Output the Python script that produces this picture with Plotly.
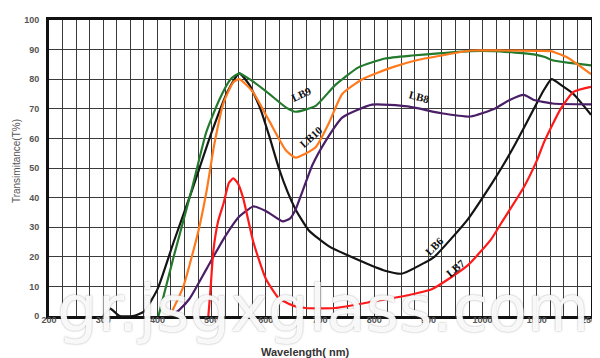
import numpy as np
import plotly.graph_objects as go

# Axis ticks (non-linear wavelength scale: equal spacing between labels)
tick_nm = [200, 300, 400, 500, 600, 700, 800, 900, 1000, 1500, 2500]
tick_text = ["200", "300", "400", "500", "600", "700", "800", "900", "1000", "1500", "2500"]
y_ticks = [0, 10, 20, 30, 40, 50, 60, 70, 80, 90, 100]

# Series (wavelength nm, transmittance %)
lb6_nm = [300, 313, 330, 355, 375, 400, 430, 463, 500, 530, 551, 570, 590, 606, 624, 640, 655, 679, 716,
          770, 820, 851, 893, 911, 972, 1080, 1174, 1300, 1473, 1620, 1774, 1950, 2176, 2500]
lb6_t = [0, 2.5, 0, 0, 1.5, 9, 25, 42, 62, 76, 82, 78, 70, 61, 50, 42, 36, 29, 23.6,
         19, 15.3, 14.3, 18, 20, 32.5, 44.5, 50, 58, 70, 76, 80, 78, 75, 68]

lb9_nm = [402, 430, 463, 490, 514, 535, 551, 570, 600, 637, 655, 692, 728, 771, 820, 870, 924, 978,
          1100, 1300, 1473, 1650, 1790, 2100, 2500]
lb9_t = [0, 20, 42.5, 62, 73, 80, 82, 80, 76, 70.5, 69, 71, 78, 84, 87, 88, 88.8, 89.5,
         89.5, 89, 88.4, 87.5, 86.4, 85.5, 84.7]

lb10_nm = [423, 448, 476, 491, 505, 522, 540, 551, 575, 606, 637, 655, 692, 716, 741, 778, 833, 880,
           924, 978, 1200, 1500, 1755, 2050, 2500]
lb10_t = [0, 10, 29, 42.5, 58, 72, 79, 80, 76, 66, 56, 53.5, 57, 65, 75, 80, 84, 86.5,
          88, 89.7, 89.7, 89.6, 89.5, 87.5, 81.7]

lb8_nm = [425, 440, 460, 491, 522, 551, 577, 600, 631, 645, 655, 686, 710, 741, 796, 862, 924, 978,
          1110, 1250, 1380, 1473, 1790, 2500]
lb8_t = [0, 2, 6, 16, 26, 33.6, 37, 35.5, 32, 33, 36, 51, 59, 67, 71.4, 70.8, 68.5, 67.4,
         70, 73, 74.7, 73, 71.8, 71.5]

lb7_nm = [494, 498, 503, 512, 522, 532, 540, 548, 558, 577, 600, 624, 650, 673, 728, 801, 862, 906, 972,
          1080, 1174, 1380, 1500, 1640, 1940, 2176, 2500]
lb7_t = [0, 9, 21.6, 32, 38, 45, 46.5, 45, 40, 25, 12.6, 6, 3.5, 2.7, 2.7, 5, 7, 9, 17,
         26, 31.5, 43.5, 52.5, 59, 70, 75.7, 77.4]

tick_pos = list(range(len(tick_nm)))


def pos(nm):
    return np.interp(nm, tick_nm, tick_pos)


series = [
    ("LB6", lb6_nm, lb6_t, "#141414"),
    ("LB9", lb9_nm, lb9_t, "#237a2c"),
    ("LB10", lb10_nm, lb10_t, "#ff7a1c"),
    ("LB8", lb8_nm, lb8_t, "#4a1f66"),
    ("LB7", lb7_nm, lb7_t, "#ff1a1a"),
]

fig = go.Figure()
for name, nm, t, col in series:
    fig.add_trace(go.Scatter(x=pos(nm), y=t, mode="lines", name=name,
                             line=dict(color=col, width=2.2, shape="spline", smoothing=0.5),
                             hoverinfo="skip"))

# Curve labels
labels = [
    ("LB9", 666, 75, -25),
    ("LB10", 683, 60.5, -42),
    ("LB8", 884, 74, 15),
    ("LB6", 911, 23.6, -45),
    ("LB7", 950, 16.3, -40),
]
for txt, nm, yv, ang in labels:
    fig.add_annotation(x=float(pos(nm)), y=yv, text=txt, showarrow=False, textangle=ang,
                       font=dict(family="Liberation Serif", size=11, color="#111", weight="bold"))

# Watermark
fig.add_annotation(x=0.506, y=0.005, xref="paper", yref="paper", text="gr.jsgxglass.com",
                   showarrow=False, yanchor="middle", yshift=6,
                   font=dict(family="DejaVu Sans", size=64, color="rgba(255,255,255,0.92)",
                             shadow="0px 0px 2px rgba(110,110,110,0.7)"))

# Axis titles
fig.add_annotation(x=0.4735, y=-0.12, xref="paper", yref="paper", text="Wavelength( nm)",
                   showarrow=False, yanchor="middle",
                   font=dict(family="Liberation Sans", size=11, color="#333", weight="bold"))
fig.add_annotation(x=-0.06, y=0.525, xref="paper", yref="paper", text="Transimitance(T%)",
                   showarrow=False, textangle=-90, xanchor="center", yanchor="middle",
                   font=dict(family="Liberation Sans", size=10, color="#555"))

fig.update_layout(
    width=600, height=358,
    margin=dict(l=41, r=12, t=7, b=50),
    paper_bgcolor="white", plot_bgcolor="white",
    showlegend=False,
    xaxis=dict(range=[0, 10], tickvals=tick_pos, ticktext=tick_text, showgrid=True,
               gridcolor="#3a3a3a", gridwidth=1.2,
               minor=dict(dtick=0.25, tick0=0, showgrid=True, gridcolor="#3a3a3a", gridwidth=1.2),
               showline=True, linecolor="#111", linewidth=3, mirror=True, ticks="",
               zeroline=False, fixedrange=True, ticklabelstandoff=-7,
               tickfont=dict(family="Liberation Sans", size=9, color="#555", weight="bold")),
    yaxis=dict(range=[0, 100], tickvals=y_ticks, showgrid=True, gridcolor="#3a3a3a", gridwidth=1.2,
               showline=True, linecolor="#111", linewidth=3, mirror=True, ticks="",
               zeroline=False, fixedrange=True, ticklabelstandoff=5,
               tickfont=dict(family="Liberation Sans", size=9, color="#555", weight="bold")),
)

fig.write_html("out.html")
